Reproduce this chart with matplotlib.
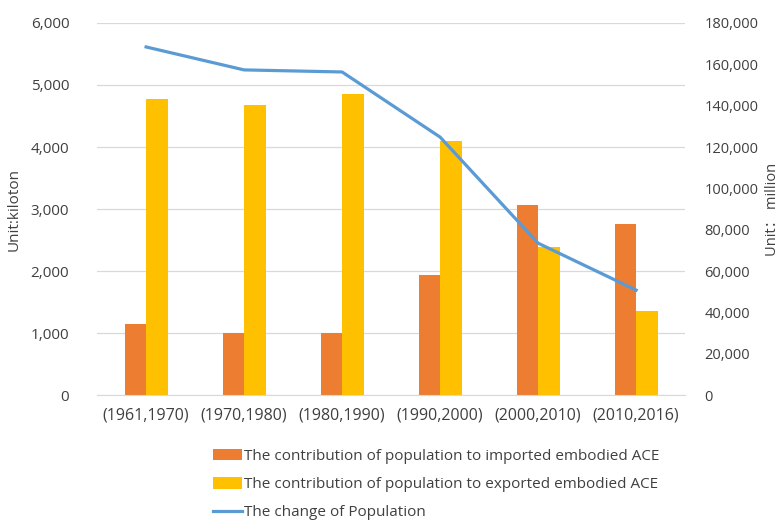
import numpy as np
import matplotlib.pyplot as plt
from matplotlib import rcParams
from matplotlib.ticker import FuncFormatter

rcParams.update({
    "font.family": ['Open Sans', 'Noto Sans CJK SC', 'DejaVu Sans'],
    "font.size": 11,
})

periods = ['(1961,1970)', '(1970,1980)', '(1980,1990)',
           '(1990,2000)', '(2000,2010)', '(2010,2016)']
imported_ace = [1150, 1010, 1010, 1930, 3060, 2760]
exported_ace = [4770, 4670, 4850, 4100, 2390, 1350]
population = [168400, 157300, 156300, 124800, 73500, 50800]

fmt = FuncFormatter(lambda v, p: f'{int(v):,}')
text_col = '#404040'

fig = plt.figure(figsize=(7.83, 5.22), dpi=100)
ax = fig.add_axes([0.124, 0.243, 0.751, 0.713])
ax2 = ax.twinx()

x = np.arange(len(periods))
w = 0.22
b1 = ax.bar(x - w / 2, imported_ace, w, color='#ED7D31', zorder=2,
            label='The contribution of population to imported embodied ACE')
b2 = ax.bar(x + w / 2, exported_ace, w, color='#FFC000', zorder=2,
            label='The contribution of population to exported embodied ACE')
l1, = ax2.plot(x, population, color='#5B9BD5', lw=2.3,
               label='The change of Population')

ax.set_xlim(-0.5, len(periods) - 0.5)
ax.set_ylim(0, 6000)
ax.set_yticks(np.arange(0, 6001, 1000))
ax2.set_ylim(0, 180000)
ax2.set_yticks(np.arange(0, 180001, 20000))
ax.yaxis.set_major_formatter(fmt)
ax2.yaxis.set_major_formatter(fmt)
ax.set_xticks(x)
ax.set_xticklabels(periods)

ax.grid(axis='y', color='#D9D9D9', lw=0.9, zorder=0)
for a in (ax, ax2):
    for s in a.spines.values():
        s.set_visible(False)
    a.tick_params(length=0, colors=text_col, labelsize=11)
ax.spines['bottom'].set_visible(True)
ax.spines['bottom'].set_color('#D9D9D9')
ax.tick_params(axis='y', pad=20)
ax2.tick_params(axis='y', pad=14, labelsize=10.5)
ax.tick_params(axis='x', labelsize=11.5, pad=9)

ax.set_ylabel('Unit:kiloton', color=text_col)
ax2.set_ylabel('Unit： million', color=text_col, rotation=90, fontsize=10.5)
ax.yaxis.set_label_coords(-0.128, 0.5)
ax2.yaxis.set_label_coords(1.136, 0.5)

fig.legend(handles=[b1, b2, l1], loc='upper center',
           bbox_to_anchor=(0.557, 0.152), frameon=False,
           handlelength=1.9, handleheight=0.8, handletextpad=0.15,
           labelspacing=0.85, fontsize=11, labelcolor=text_col,
           borderaxespad=0)

fig.savefig('out.png', dpi=100)
